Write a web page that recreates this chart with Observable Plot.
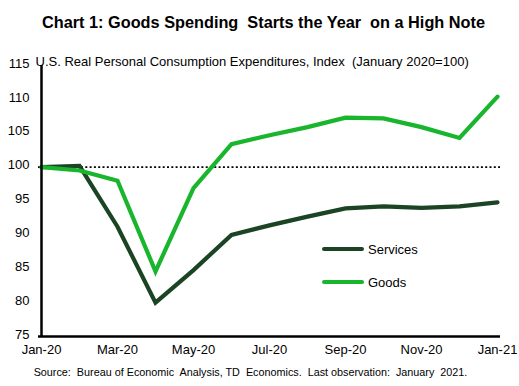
<!DOCTYPE html>
<html>
<head>
<meta charset="utf-8">
<script src="https://cdn.jsdelivr.net/npm/d3@7"></script>
<script src="https://cdn.jsdelivr.net/npm/@observablehq/plot@0.6"></script>
<style>
  body { margin: 0; background: #fff; font-family: "Liberation Sans", Arial, sans-serif; }
  #wrap { position: relative; width: 519px; height: 386px; }
  #legend { position: absolute; left: 322px; top: 239px; font-size: 13px; color: #000; }
  .item { display: flex; align-items: center; height: 20px; margin-bottom: 13px; }
  .sw { width: 42px; height: 4px; border-radius: 2px; margin-right: 4px; }
</style>
</head>
<body>
<div id="wrap"></div>
<script>
const months = ["Jan-20","Feb-20","Mar-20","Apr-20","May-20","Jun-20","Jul-20","Aug-20","Sep-20","Oct-20","Nov-20","Dec-20","Jan-21"];
const services = [100, 100.2, 91.2, 80.0, 84.8, 90.0, 91.4, 92.7, 93.9, 94.2, 94.0, 94.2, 94.8];
const goods = [100, 99.5, 98.0, 84.6, 96.9, 103.4, 104.7, 105.9, 107.3, 107.2, 105.9, 104.3, 110.4];
const seriesNames = ["Services", "Goods"];
const seriesColors = ["#1b4424", "#19b52c"];
const yTicks = [75, 80, 85, 90, 95, 100, 105, 110, 115];
const xTickLabels = ["Jan-20","Mar-20","May-20","Jul-20","Sep-20","Nov-20","Jan-21"];
const title = "Chart 1: Goods Spending  Starts the Year  on a High Note";
const subtitle = "U.S. Real Personal Consumption Expenditures, Index  (January 2020=100)";
const caption = "Source:  Bureau of Economic  Analysis, TD  Economics.  Last observation:  January  2021.";

const data = [];
months.forEach((m, i) => {
  data.push({month: m, value: services[i], series: "Services"});
  data.push({month: m, value: goods[i], series: "Goods"});
});

const chart = Plot.plot({
  width: 519,
  height: 386,
  marginLeft: 38,
  marginRight: 19,
  marginTop: 65,
  marginBottom: 50,
  style: {fontFamily: '"Liberation Sans", Arial, sans-serif', fontSize: "13px", color: "#000", background: "#fff"},
  x: {type: "point", domain: months, padding: 0, label: null},
  y: {domain: [75, 115], label: null},
  color: {domain: seriesNames, range: seriesColors},
  marks: [
    Plot.axisY(yTicks, {tickSize: 0, tickPadding: 9, dy: -2, fontSize: 13, label: null}),
    Plot.axisX(xTickLabels, {tickSize: 0, tickPadding: 8, fontSize: 13, label: null}),
    Plot.ruleY([100], {stroke: "#000", strokeWidth: 1.6, strokeDasharray: "2,2.3"}),
    Plot.line(data, {x: "month", y: "value", z: "series", stroke: "series", strokeWidth: 4.2, strokeLinejoin: "miter", strokeMiterlimit: 3}),
    Plot.ruleX([months[0]], {stroke: "#000", strokeWidth: 2.5}),
    Plot.ruleY([75], {stroke: "#000", strokeWidth: 2.5}),
    Plot.text([title], {frameAnchor: "top", dx: -6, dy: -49, fontSize: 16.3, fontWeight: "bold", fill: "#000"}),
    Plot.text([subtitle], {frameAnchor: "top-left", textAnchor: "start", dx: -3, dy: -9, fontSize: 13, fill: "#000"}),
    Plot.text([caption], {frameAnchor: "bottom", dx: -19, dy: 39, fontSize: 10.8, fill: "#000"})
  ]
});
document.getElementById("wrap").appendChild(chart);

const legend = document.createElement("div");
legend.id = "legend";
seriesNames.forEach((n, i) => {
  const it = document.createElement("div");
  it.className = "item";
  const sw = document.createElement("div");
  sw.className = "sw";
  sw.style.background = seriesColors[i];
  const t = document.createElement("span");
  t.textContent = n;
  it.appendChild(sw); it.appendChild(t);
  legend.appendChild(it);
});
document.getElementById("wrap").appendChild(legend);
</script>
</body>
</html>
